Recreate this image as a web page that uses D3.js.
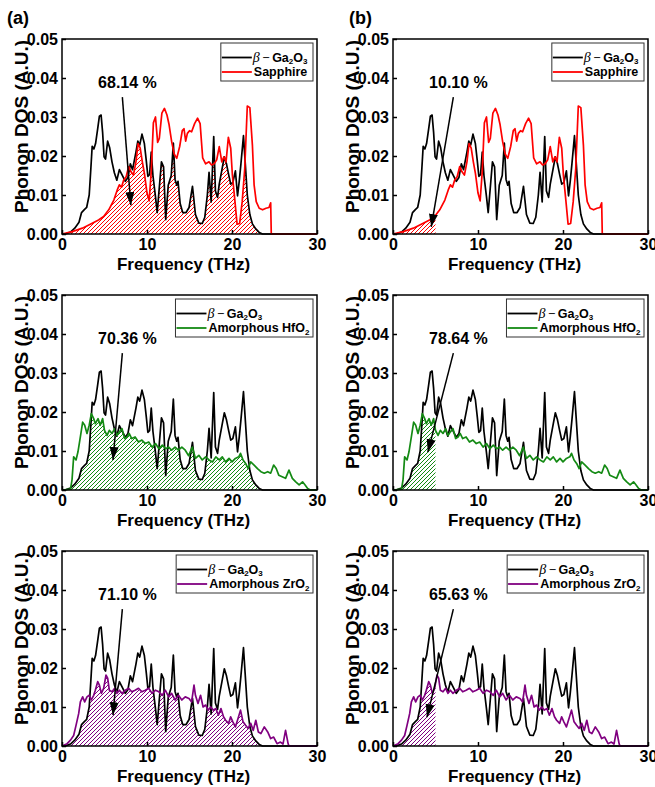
<!DOCTYPE html>
<html>
<head>
<meta charset="utf-8">
<script src="https://cdn.jsdelivr.net/npm/d3@7"></script>
<style>
  body { margin: 0; background: #fff; }
  text { font-family: "Liberation Sans", Arial, sans-serif; font-weight: bold; fill: #000; }
</style>
</head>
<body>
<script>
/////////////////////////////////////////////////
// data
/////////////////////////////////////////////////
var freqTicks = [0, 10, 20, 30];
var dosTicks  = [0, 0.01, 0.02, 0.03, 0.04, 0.05];
var panelLabels = ["(a)", "(b)"];

// beta-Ga2O3 phonon DOS, [THz, DOS]
var gaDos = [[0,0],[0.5,0.0001],[1.0,0.0005],[1.5,0.0015],[2.0,0.003],[2.3,0.0055],[2.6,0.0062],[2.9,0.0068],
  [3.2,0.010],[3.4,0.017],[3.55,0.0225],[3.75,0.0218],[3.95,0.0232],[4.2,0.027],[4.4,0.0302],[4.6,0.0305],
  [4.78,0.026],[4.95,0.0198],[5.12,0.0192],[5.37,0.0238],[5.6,0.0222],[5.88,0.0185],[6.16,0.0157],[6.45,0.0138],
  [6.75,0.0165],[7.05,0.0152],[7.45,0.0135],[7.76,0.0145],[8.04,0.018],[8.3,0.0165],[8.7,0.021],[8.92,0.0238],
  [9.14,0.0228],[9.41,0.0256],[9.69,0.0232],[9.92,0.0187],[10.1,0.0148],[10.3,0.0152],[10.5,0.021],[10.7,0.015],
  [11.0,0.0095],[11.2,0.0055],[11.45,0.012],[11.7,0.0185],[11.95,0.0172],[12.2,0.0037],[12.5,0.0125],[12.85,0.015],
  [13.1,0.0233],[13.3,0.014],[13.5,0.0125],[13.65,0.0135],[13.9,0.0078],[14.2,0.0055],[14.6,0.0055],[14.95,0.0068],
  [15.35,0.0122],[15.7,0.005],[16.1,0.0028],[16.5,0.0027],[16.8,0.0043],[17.1,0.010],[17.3,0.0158],[17.55,0.0082],
  [17.85,0.025],[18.05,0.011],[18.3,0.0094],[18.5,0.0128],[18.86,0.017],[19.1,0.0198],[19.35,0.018],[19.6,0.0153],
  [19.85,0.0128],[20.1,0.0132],[20.4,0.0162],[20.65,0.0098],[20.85,0.0135],[21.05,0.018],[21.35,0.0252],[21.55,0.0185],
  [21.8,0.010],[22.1,0.005],[22.4,0.0026],[22.8,0.0013],[23.2,0.0004],[23.6,0],[30,0]];

var sapphireDos = [[0,0],[1.2,0.0006],[2.4,0.0015],[3.5,0.0027],[4.3,0.0036],[4.9,0.0045],[5.5,0.0062],[6.1,0.0087],
  [6.5,0.0113],[6.75,0.0126],[7.0,0.012],[7.25,0.0138],[7.55,0.0147],[7.85,0.0173],[8.1,0.016],[8.4,0.0151],
  [8.7,0.0185],[8.95,0.0232],[9.2,0.022],[9.45,0.0185],[9.7,0.0155],[10.0,0.0105],[10.25,0.0085],[10.5,0.016],
  [10.75,0.0285],[11.0,0.030],[11.25,0.0235],[11.45,0.0245],[11.75,0.031],[12.05,0.0322],[12.35,0.0305],[12.6,0.028],
  [12.9,0.0237],[13.2,0.0205],[13.5,0.0194],[13.85,0.0225],[14.15,0.0265],[14.35,0.027],[14.55,0.0238],[14.75,0.0258],
  [15.0,0.0265],[15.25,0.0262],[15.6,0.0283],[15.95,0.0297],[16.25,0.0283],[16.55,0.0195],[16.9,0.018],[17.3,0.0185],
  [17.6,0.0177],[17.9,0.018],[18.2,0.019],[18.5,0.0224],[18.8,0.0185],[19.05,0.0198],[19.3,0.0185],[19.57,0.0248],
  [19.85,0.022],[20.05,0.015],[20.35,0.0083],[20.6,0.0025],[20.9,0.0027],[21.2,0.0083],[21.5,0.0168],[21.8,0.0328],
  [22.1,0.0324],[22.4,0.0228],[22.6,0.0126],[22.85,0.0083],[23.2,0.0066],[23.6,0.0062],[24.0,0.0066],[24.35,0.0068],
  [24.55,0.008],[24.62,0],[30,0]];

var hfo2Dos = [[0,0],[1.0,0.0002],[1.18,0.0026],[1.37,0.0085],[1.65,0.0077],[1.88,0.0098],[2.16,0.0136],[2.43,0.0174],
  [2.67,0.0166],[2.94,0.0145],[3.2,0.0166],[3.45,0.0196],[3.73,0.0183],[3.92,0.017],[4.24,0.0183],[4.5,0.0166],
  [4.78,0.0183],[5.0,0.0153],[5.3,0.014],[5.57,0.0153],[5.88,0.0145],[6.2,0.0157],[6.47,0.014],[6.75,0.0149],
  [7.06,0.0157],[7.37,0.0132],[7.65,0.0136],[7.9,0.0145],[8.2,0.0132],[8.6,0.0136],[9.0,0.0123],[9.4,0.0128],
  [9.8,0.0119],[10.2,0.0123],[10.6,0.011],[11.0,0.0119],[11.4,0.0106],[11.8,0.0115],[12.2,0.0106],[12.55,0.011],
  [12.9,0.0102],[13.3,0.011],[13.7,0.0102],[14.1,0.011],[14.5,0.0102],[14.9,0.0088],[15.33,0.011],[15.7,0.0081],
  [16.1,0.0089],[16.5,0.0077],[16.9,0.0085],[17.3,0.0077],[17.7,0.0072],[18.1,0.0085],[18.5,0.0077],[18.86,0.0085],
  [19.25,0.0072],[19.65,0.0081],[20.0,0.0072],[20.4,0.0081],[20.8,0.0085],[21.0,0.0094],[21.3,0.0077],[21.6,0.0068],
  [21.9,0.0055],[22.2,0.0072],[22.6,0.0064],[23.0,0.0055],[23.4,0.0047],[23.8,0.0043],[24.2,0.0047],[24.55,0.0043],
  [24.9,0.0064],[25.2,0.0055],[25.5,0.0038],[25.9,0.0034],[26.3,0.003],[26.7,0.0051],[27.1,0.003],[27.5,0.0021],
  [27.9,0.0013],[28.3,0.0021],[28.6,0.0013],[28.9,0.0004],[29.2,0],[30,0]];

var zro2Dos = [[0,0],[0.6,0.0006],[1.0,0.0015],[1.37,0.0027],[1.65,0.0053],[1.96,0.0083],[2.16,0.0113],[2.43,0.0126],
  [2.67,0.0113],[2.94,0.0126],[3.2,0.013],[3.45,0.0118],[3.73,0.013],[3.92,0.0143],[4.2,0.0165],[4.4,0.0156],
  [4.63,0.0135],[4.9,0.0148],[5.18,0.0182],[5.37,0.0174],[5.57,0.0143],[5.88,0.0139],[6.2,0.0148],[6.47,0.0135],
  [6.75,0.0143],[7.06,0.0135],[7.45,0.0143],[7.84,0.0148],[8.2,0.0139],[8.6,0.0143],[9.0,0.0148],[9.4,0.0139],
  [9.8,0.0143],[10.2,0.0148],[10.6,0.0135],[11.0,0.0143],[11.4,0.0139],[11.8,0.013],[12.15,0.0143],[12.55,0.0126],
  [12.9,0.0135],[13.3,0.0118],[13.7,0.013],[14.1,0.0118],[14.5,0.0126],[14.94,0.0122],[15.25,0.0113],[15.53,0.0156],
  [15.7,0.013],[16.0,0.0109],[16.3,0.013],[16.6,0.010],[16.9,0.0105],[17.2,0.0092],[17.5,0.010],[17.8,0.0092],
  [18.1,0.0096],[18.4,0.0079],[18.7,0.0096],[19.0,0.0075],[19.25,0.0066],[19.6,0.0058],[19.84,0.0075],[20.1,0.0062],
  [20.4,0.0049],[20.7,0.007],[21.0,0.0092],[21.3,0.0062],[21.6,0.0053],[21.9,0.0045],[22.2,0.0058],[22.5,0.004],
  [22.8,0.0066],[23.1,0.0036],[23.4,0.0032],[23.8,0.0049],[24.2,0.0036],[24.55,0.0019],[24.9,0.0023],[25.3,0.0006],
  [25.7,0.001],[26.0,0.0005],[26.3,0.004],[26.6,0.0006],[26.7,0],[30,0]];

var partnerDos    = [sapphireDos, hfo2Dos, zro2Dos];
var partnerNames  = ["Sapphire", "Amorphous HfO", "Amorphous ZrO"];   // "2" subscript added after HfO / ZrO
var partnerSub    = ["", "2", "2"];
var overlapText   = [["68.14 %", "10.10 %"], ["70.36 %", "78.64 %"], ["71.10 %", "65.63 %"]];
var arrowTips     = [[[8.1, 0.0074], [4.5, 0.0018]], [[6.0, 0.0077], [4.1, 0.0097]], [[6.0, 0.0079], [4.0, 0.0074]]];
var arrowTail     = [7.1, 0.0351];
var textAnchor    = [7.7, 0.0375];
var overlapLimit  = [30, 5];   // (a) whole range, (b) up to 5 THz

/////////////////////////////////////////////////
// locals
/////////////////////////////////////////////////
var width = 655, height = 787;
var colLeft = [62, 393], rowTop = [39, 295, 551];
var plotW = 255, plotH = 195;
var colors = ["#ff0000", "#148a14", "#800080"];
var hatchStep = 4;

var svg = d3.select("body").append("svg")
    .attr("width", width)
    .attr("height", height);
var defs = svg.append("defs");

defs.append("marker")
    .attr("id", "arrow")
    .attr("markerUnits", "userSpaceOnUse")
    .attr("markerWidth", 14).attr("markerHeight", 10)
    .attr("refX", 13).attr("refY", 4.5)
    .attr("orient", "auto")
  .append("path")
    .attr("d", "M0,0L13,4.5L0,9Z")
    .attr("fill", "#000");

var x = d3.scaleLinear().domain([0, 30]).range([0, plotW]);
var y = d3.scaleLinear().domain([0, 0.05]).range([plotH, 0]);

var line = d3.line().x(function(d) { return x(d[0]); }).y(function(d) { return y(d[1]); });
var area = d3.area().x(function(d) { return x(d[0]); }).y0(plotH).y1(function(d) { return y(d[1]); });

// linear value of a series at f
function valueAt(s, f) {
  var i = d3.bisector(function(d) { return d[0]; }).right(s, f);
  if (i <= 0) return s[0][1];
  if (i >= s.length) return s[s.length - 1][1];
  var p = s[i - 1], q = s[i];
  return p[1] + (q[1] - p[1]) * (f - p[0]) / (q[0] - p[0]);
}

// overlap region = min of both curves, up to limit
function overlap(a, b, limit) {
  var xs = Array.from(new Set(a.map(function(d) { return d[0]; }).concat(b.map(function(d) { return d[0]; }))))
      .filter(function(f) { return f < limit; })
      .sort(function(p, q) { return p - q; });
  xs.push(limit);
  var pts = [];
  xs.forEach(function(f, k) {
    if (k > 0) {
      var f0 = xs[k - 1];
      var d0 = valueAt(a, f0) - valueAt(b, f0), d1 = valueAt(a, f) - valueAt(b, f);
      if (d0 * d1 < 0) {
        var fc = f0 + (f - f0) * d0 / (d0 - d1);
        pts.push([fc, Math.min(valueAt(a, fc), valueAt(b, fc))]);
      }
    }
    pts.push([f, Math.min(valueAt(a, f), valueAt(b, f))]);
  });
  return pts;
}

/////////////////////////////////////////////////
// legend
/////////////////////////////////////////////////
function legend(g, r) {
  var lg = g.append("g");
  var box = lg.append("rect");

  lg.append("line").attr("x1", 1).attr("x2", 31).attr("y1", 14.5).attr("y2", 14.5)
    .attr("stroke", "#000").attr("stroke-width", 1.8);
  lg.append("line").attr("x1", 1).attr("x2", 31).attr("y1", 29).attr("y2", 29)
    .attr("stroke", colors[r]).attr("stroke-width", 1.8);

  var t1 = lg.append("text").attr("x", 32).attr("y", 14.5).attr("dy", "0.35em").style("font-size", "12.5px");
  t1.append("tspan").text("β")
    .style("font-family", "'Liberation Serif', serif").style("font-style", "italic")
    .style("font-weight", "normal").style("font-size", "14px");
  t1.append("tspan").text("\u2009\u2212\u2009").style("font-weight", "normal");
  t1.append("tspan").text("Ga");
  t1.append("tspan").text("2").attr("dy", 2.5).style("font-size", "8px");
  t1.append("tspan").text("O").attr("dy", -2.5);
  t1.append("tspan").text("3").attr("dy", 2.5).style("font-size", "8px");

  var t2 = lg.append("text").attr("x", 33).attr("y", 29).attr("dy", "0.35em").style("font-size", "12.5px");
  t2.append("tspan").text(partnerNames[r]);
  if (partnerSub[r]) t2.append("tspan").text(partnerSub[r]).attr("dy", 2.5).style("font-size", "8px");

  var bw = Math.max(t1.node().getBBox().width, t2.node().getBBox().width) + 36;
  box.attr("x", 0).attr("y", 0).attr("width", bw).attr("height", 38)
    .attr("fill", "#fff").attr("stroke", "#333").attr("stroke-width", 1);
  lg.attr("transform", "translate(" + (plotW - 4 - bw) + ",4)");
}

/////////////////////////////////////////////////
// panels
/////////////////////////////////////////////////
rowTop.forEach(function(top, r) {
  colLeft.forEach(function(left, c) {
    var g = svg.append("g").attr("transform", "translate(" + left + "," + top + ")");

    // hatched overlap: diagonal lines clipped to the overlap area
    var clipId = "clip" + r + "-" + c;
    defs.append("clipPath").attr("id", clipId)
      .append("path")
      .attr("transform", "translate(" + left + "," + top + ")")
      .attr("d", area(overlap(gaDos, partnerDos[r], overlapLimit[c])));
    var hatch = svg.append("g").attr("clip-path", "url(#" + clipId + ")")
      .append("g").attr("transform", "translate(" + left + "," + top + ")");
    hatch.selectAll("line")
      .data(d3.range(-plotH, plotW, hatchStep))
      .enter().append("line")
      .attr("x1", function(k) { return k; }).attr("y1", plotH)
      .attr("x2", function(k) { return k + plotH; }).attr("y2", 0)
      .attr("stroke", colors[r]).attr("stroke-width", 1);

    g.raise();
    g.append("path").datum(gaDos).attr("d", line)
      .attr("fill", "none").attr("stroke", "#000").attr("stroke-width", 1.7).attr("stroke-linejoin", "round");
    g.append("path").datum(partnerDos[r]).attr("d", line)
      .attr("fill", "none").attr("stroke", colors[r]).attr("stroke-width", 1.7).attr("stroke-linejoin", "round");

    // axes, ticks inward
    var xa = g.append("g").attr("transform", "translate(0," + plotH + ")")
      .call(d3.axisBottom(x).tickValues(freqTicks).tickSize(-4).tickPadding(5).tickFormat(d3.format("d")));
    var ya = g.append("g")
      .call(d3.axisLeft(y).tickValues(dosTicks).tickSize(-4).tickPadding(4).tickFormat(d3.format(".2f")));
    [xa, ya].forEach(function(a) {
      a.select(".domain").remove();
      a.selectAll("line").attr("stroke", "#000").attr("stroke-width", 1.5);
      a.selectAll("text").style("font-size", "16px").style("font-weight", "bold")
        .style("font-family", "'Liberation Sans', Arial, sans-serif");
    });

    g.append("rect").attr("width", plotW).attr("height", plotH)
      .attr("fill", "none").attr("stroke", "#000").attr("stroke-width", 1.5);

    // arrow + overlap percentage
    var tip = arrowTips[r][c];
    g.append("line")
      .attr("x1", x(arrowTail[0])).attr("y1", y(arrowTail[1]))
      .attr("x2", x(tip[0])).attr("y2", y(tip[1]))
      .attr("stroke", "#000").attr("stroke-width", 1.5)
      .attr("marker-end", "url(#arrow)");
    g.append("text")
      .attr("x", x(textAnchor[0])).attr("y", y(textAnchor[1]))
      .attr("text-anchor", "middle")
      .style("font-size", "16px")
      .text(overlapText[r][c]);

    legend(g, r);

    // axis titles
    svg.append("text")
      .attr("transform", "translate(" + (left - 41) + "," + (top + plotH / 2 - 10) + ") rotate(-90)")
      .attr("text-anchor", "middle").attr("dy", "0.35em")
      .style("font-size", "19px")
      .text("Phonon DOS (A.U.)");
    svg.append("text")
      .attr("x", left + plotW / 2 - 6).attr("y", top + plotH + 36)
      .attr("text-anchor", "middle")
      .style("font-size", "17px")
      .text("Frequency (THz)");
  });
});

panelLabels.forEach(function(lab, c) {
  svg.append("text").attr("x", [7, 349][c]).attr("y", 24).style("font-size", "18px").text(lab);
});
</script>
</body>
</html>
